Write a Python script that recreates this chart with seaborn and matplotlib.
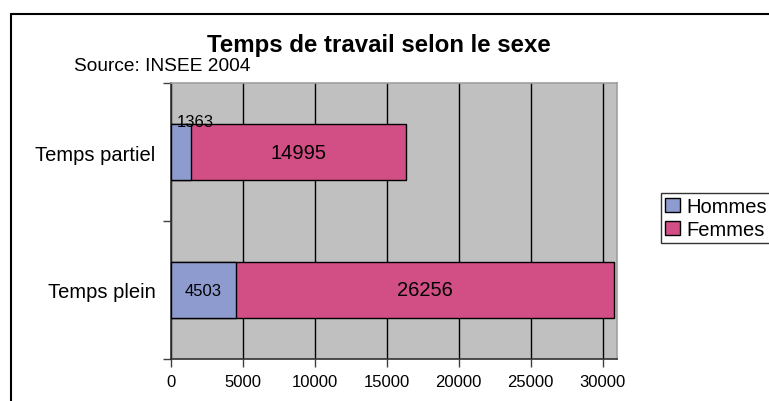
import matplotlib
matplotlib.use("Agg")
import matplotlib.pyplot as plt
from matplotlib.lines import Line2D
from matplotlib.patches import Patch
import seaborn as sns
import pandas as pd

categories = ["Temps partiel", "Temps plein"]
hommes = [1363, 4503]
femmes = [14995, 26256]
series_names = ["Hommes", "Femmes"]
xticks = [0, 5000, 10000, 15000, 20000, 25000, 30000]
title = "Temps de travail selon le sexe"
source = "Source: INSEE 2004"

col_h = "#8E9BCE"
col_f = "#D14F85"

sns.set_theme(style="white")
plt.rcParams["font.family"] = ["Liberation Sans", "DejaVu Sans"]
plt.rcParams["text.color"] = "black"
plt.rcParams["xtick.color"] = "black"
plt.rcParams["ytick.color"] = "black"
plt.rcParams["axes.labelcolor"] = "black"

df = pd.DataFrame({
    "cat": categories,
    "Hommes": hommes,
    "Femmes": femmes,
})
df["Total"] = df["Hommes"] + df["Femmes"]

fig = plt.figure(figsize=(7.69, 4.02), dpi=100)
L, R, T, B = 171, 617, 84, 360
ax = fig.add_axes([L / 769, 1 - B / 402, (R - L) / 769, (B - T) / 402])
ax.set_facecolor("#C0C0C0")

sns.barplot(data=df, y="cat", x="Total", order=categories, orient="h",
            color=col_f, saturation=1, width=0.4, edgecolor="black",
            linewidth=1.0, ax=ax, zorder=3)
sns.barplot(data=df, y="cat", x="Hommes", order=categories, orient="h",
            color=col_h, saturation=1, width=0.4, edgecolor="black",
            linewidth=1.0, ax=ax, zorder=4)

ax.set_xlim(0, 31000)
ax.set_ylim(1.5, -0.5)
ax.set_xlabel("")
ax.set_ylabel("")

ax.set_xticks(xticks)
ax.set_xticklabels([str(v) for v in xticks], fontsize=12, color="black")
ax.xaxis.grid(True, color="black", linewidth=1.0, zorder=1)
ax.set_axisbelow(True)

ax.set_yticks([-0.5, 0.5, 1.5])
ax.set_yticklabels([])
ax.set_yticks([0, 1], minor=True)
ax.set_yticklabels(categories, minor=True, fontsize=14.5, color="black")
ax.tick_params(axis="y", which="minor", length=0, pad=11)
ax.tick_params(axis="y", which="major", length=6, width=1, color="#404040", direction="out", left=True)
ax.tick_params(axis="x", which="major", length=6, width=1, color="#404040", direction="out", bottom=True, pad=5)

for s in ["left", "bottom"]:
    ax.spines[s].set_color("#303030")
    ax.spines[s].set_linewidth(1.2)
for s in ["top", "right"]:
    ax.spines[s].set_color("#A0A0A0")
    ax.spines[s].set_linewidth(1.2)

# data labels
for i, (h, f) in enumerate(zip(hommes, femmes)):
    ax.text(h + f / 2, i, str(f), ha="center", va="center", fontsize=14.5,
            color="black", zorder=6)
    if h > 3000:
        ax.text(h / 2, i, str(h), ha="center", va="center", fontsize=12,
                color="black", zorder=6)
    else:
        ax.text(h * 0.3, i - 0.22, str(h), ha="left", va="center", fontsize=12,
                color="black", zorder=6)

# title and source
fig.text(379 / 769, 1 - 52 / 402, title, ha="center", va="baseline",
         fontsize=17.3, fontweight="bold", color="black")
fig.text(74 / 769, 1 - 71 / 402, source, ha="left", va="baseline",
         fontsize=13.8, color="black")

# legend
handles = [Patch(facecolor=col_h, edgecolor="black", linewidth=1.0, label=series_names[0]),
           Patch(facecolor=col_f, edgecolor="black", linewidth=1.0, label=series_names[1])]
leg = fig.legend(handles=handles, loc="upper left",
                 bbox_to_anchor=(661 / 769, 1 - 194 / 402),
                 frameon=True, fancybox=False, fontsize=14.5,
                 handlelength=0.75, handleheight=0.75, handletextpad=0.3,
                 borderpad=0.2, labelspacing=0.2, borderaxespad=0)
leg.get_frame().set_edgecolor("black")
leg.get_frame().set_linewidth(1.0)
for t in leg.get_texts():
    t.set_color("black")

# outer chart frame (top and left visible)
fig.add_artist(Line2D([11 / 769, 1.0], [1 - 15 / 402, 1 - 15 / 402],
                      transform=fig.transFigure, color="black", linewidth=1.5))
fig.add_artist(Line2D([11 / 769, 11 / 769], [1 - 15 / 402, 0],
                      transform=fig.transFigure, color="black", linewidth=1.5))

fig.savefig("out.png", dpi=100, facecolor="white")
